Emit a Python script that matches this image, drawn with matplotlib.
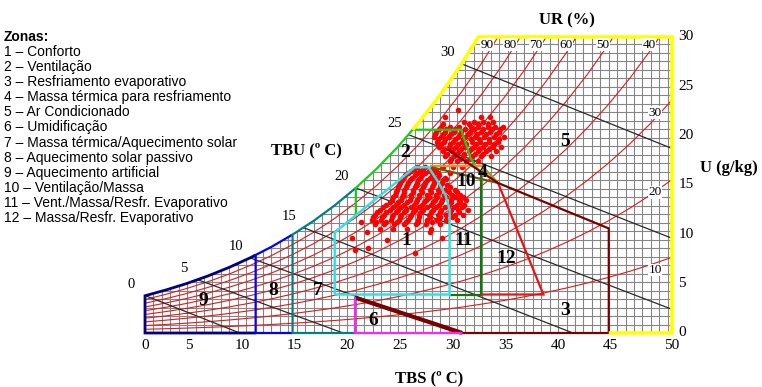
#!/usr/bin/env python3
import matplotlib
matplotlib.use("Agg")
import matplotlib.pyplot as plt
import numpy as np
from matplotlib.patches import Polygon
from matplotlib.collections import LineCollection

# PSYCHROMETRIC TABLE (dry bulb in C, saturation pressure in kPa)
temp_tab = [0, 2, 4, 6, 8, 10, 12, 14, 16, 18, 20, 22, 24,
            26, 28, 30, 32, 34, 36, 38, 40, 42, 44, 46, 48, 50]
psat_kpa = [0.611, 0.706, 0.813, 0.935, 1.073, 1.228, 1.403, 1.599, 1.818,
            2.064, 2.339, 2.645, 2.985, 3.363, 3.782, 4.246, 4.758, 5.324,
            5.947, 6.632, 7.384, 8.208, 9.111, 10.098, 11.175, 12.352]
p_atm = 101.325

rh_levels = [10, 20, 30, 40, 50, 60, 70, 80, 90]
tbu_vals = [0, 5, 10, 15, 20, 25, 30]
tbu_start_u = [3.8, 5.4, 7.6, 10.7, 14.7, 20.1, 27.3]
tbu_end_t = [9.0, 18.8, 29.6, 40.6, 50.0, 50.0, 50.0]
tbu_end_u = [0.0, 0.0, 0.0, 0.0, 2.4, 9.6, 18.7]

tbs_ticks = [0, 5, 10, 15, 20, 25, 30, 35, 40, 45, 50]
u_ticks = [0, 5, 10, 15, 20, 25, 30]

zone_legend = [
    "1 – Conforto",
    "2 – Ventilação",
    "3 – Resfriamento evaporativo",
    "4 – Massa térmica para resfriamento",
    "5 – Ar Condicionado",
    "6 – Umidificação",
    "7 – Massa térmica/Aquecimento solar",
    "8 – Aquecimento solar passivo",
    "9 – Aquecimento artificial",
    "10 – Ventilação/Massa",
    "11 – Vent./Massa/Resfr. Evaporativo",
    "12 – Massa/Resfr. Evaporativo",
]

# zone limits (TBS, U)
zone1 = [(18, 3.9), (18, 10.2), (25.6, 16.8), (26.9, 16.8), (27.7, 15.5),
         (28.5, 14.0), (28.9, 12.5), (28.9, 3.9), (18, 3.9)]
zone2_top = [(30.0, 20.6), (30.9, 17.7), (31.9, 16.0)]
zone10_11 = [(31.9, 16.0), (31.9, 3.9), (28.9, 3.9)]
zone4_top = [(27.0, 16.9), (32.0, 16.9)]
zone4_side = [(32.0, 16.9), (33.5, 15.2)]
zone10_diag = [(27.2, 16.8), (33.5, 15.2)]
zone12 = [(33.5, 15.2), (37.8, 3.9), (31.9, 3.9)]
zone3 = [(28.7, 18.6), (33.5, 15.2), (44.0, 10.6), (44.0, 0.0), (30.1, 0.0)]
zone3_tbu = [(30.1, 0.0), (19.9, 3.6)]
zone6 = [(19.9, 3.6), (19.9, 0.0), (30.1, 0.0)]

# hourly records (U rows with TBS values), upper group
obs_a_u = [22.6, 21.9, 21.4, 21.15, 20.9, 20.65, 20.4, 20.15, 19.9, 19.65,
           19.4, 19.15, 18.9, 18.65, 18.4, 18.15, 17.9, 17.65, 17.4, 16.8,
           16.2, 15.6]
obs_a_t = [
    [29.7],
    [28.5, 31.9, 32.7],
    [30.3, 31.2, 32.1, 33.0],
    [28.3, 30.7, 31.6, 32.5],
    [28.1, 28.9, 29.8, 30.9, 31.6, 32.5, 33.2, 34.0],
    [27.9, 28.6, 29.4, 30.4, 31.2, 32.1, 32.9, 33.7],
    [27.6, 28.5, 29.3, 30.0, 30.8, 31.9, 32.7, 33.6],
    [27.5, 28.3, 29.0, 29.9, 30.6, 31.5, 32.4, 33.3],
    [27.4, 28.1, 28.8, 29.7, 30.4, 31.3, 32.2, 33.1, 34.1],
    [27.8, 28.5, 29.4, 30.2, 30.9, 31.7, 32.6, 33.6],
    [27.7, 28.4, 29.2, 30.1, 31.0, 31.8, 32.6, 33.5],
    [28.1, 28.9, 29.7, 30.5, 31.4, 32.3, 33.1],
    [27.9, 28.8, 29.5, 30.4, 31.2, 32.1, 33.0, 33.8],
    [28.4, 29.2, 30.0, 30.9, 31.7, 32.6],
    [28.3, 29.1, 29.8, 30.7, 31.6, 32.4, 33.3],
    [28.7, 29.5, 30.3, 31.3, 32.1],
    [28.5, 29.3, 30.2, 31.0, 31.9, 32.8],
    [29.0, 29.9, 30.8],
    [28.9, 29.6, 30.5, 31.6],
    [28.3, 29.2, 30.1],
    [27.8, 28.9],
    [27.4, 28.6],
]
# lower group
obs_b_u = [16.8, 16.6, 16.4, 16.2, 16.0, 15.75, 15.5, 15.25, 15.0, 14.75,
           14.5, 14.25, 14.0, 13.75, 13.5, 13.25, 13.0, 12.75, 12.5, 12.25,
           12.0, 11.75, 11.5, 11.25, 11.0, 10.5]
obs_b_t = [
    [25.8, 26.6],
    [25.5, 26.4, 27.2],
    [25.2, 26.1, 26.9, 27.6],
    [25.0, 25.8, 26.6, 27.4],
    [24.7, 25.6, 26.3, 27.2, 27.9],
    [24.5, 25.3, 26.1, 27.0, 27.7, 28.5],
    [24.4, 25.1, 25.9, 26.8, 27.5, 28.3],
    [24.2, 25.0, 25.8, 26.6, 27.4, 28.2],
    [24.1, 24.9, 25.7, 26.5, 27.3, 28.0, 28.7],
    [24.0, 24.8, 25.6, 26.4, 27.2, 28.0, 28.9],
    [23.9, 24.6, 25.4, 26.2, 27.0, 27.8, 28.5, 29.4],
    [23.8, 24.6, 25.4, 26.3, 27.1, 27.9, 28.8, 29.6],
    [23.7, 24.5, 25.2, 26.0, 26.8, 27.6, 28.4, 29.1, 29.9],
    [23.5, 24.4, 25.2, 26.0, 26.9, 27.7, 28.6, 29.4, 30.2],
    [23.4, 24.3, 25.1, 25.8, 26.7, 27.5, 28.2, 29.0, 29.8, 30.5],
    [23.2, 24.0, 24.9, 25.7, 26.5, 27.3, 28.1, 29.0, 29.9],
    [22.9, 23.8, 24.6, 25.5, 26.3, 27.1, 27.9, 28.8, 29.6, 30.3],
    [22.6, 23.5, 24.3, 25.2, 26.0, 26.8, 27.6, 28.5, 29.3, 30.1],
    [22.3, 23.2, 24.0, 24.8, 25.6, 26.4, 27.3, 28.1, 29.0, 29.7, 30.6],
    [22.0, 22.9, 23.8, 24.6, 25.4, 26.2, 27.1, 28.0, 28.9, 29.8],
    [21.8, 22.7, 23.5, 24.3, 25.2, 26.0, 26.9, 27.8, 28.6, 29.4, 30.2],
    [21.6, 22.5, 23.4, 24.2, 25.1, 26.0, 27.0, 28.0, 29.1],
    [21.5, 22.4, 23.3, 24.1, 25.0, 25.9, 26.8, 27.7, 28.6, 29.6],
    [21.9, 22.9, 23.9, 24.8, 25.9, 27.2],
    [21.8, 22.7, 23.6, 24.6, 25.7, 26.7, 28.0],
    [22.3, 23.5, 24.9, 27.1],
]
# isolated records
obs_c_t = [19.6, 21.1, 21.2, 25.6, 27.0, 28.2, 19.9, 23.0, 20.5]
obs_c_u = [9.6, 10.2, 8.6, 8.1, 10.2, 9.6, 8.4, 9.4, 11.3]

SERIF = "Liberation Serif"
SANS = "Liberation Sans"

ps = np.array(psat_kpa)
wsat = 622 * ps / (p_atm - ps)


def sat_pts(t0, t1):
    ts = [t0] + [t for t in temp_tab if t0 < t < t1] + [t1]
    return [(t, float(np.interp(t, temp_tab, wsat))) for t in ts]


def draw(ax, pts, color, lw=1.6, z=4):
    pts = np.array(pts)
    ax.plot(pts[:, 0], pts[:, 1], color=color, lw=lw, zorder=z,
            solid_joinstyle="miter", solid_capstyle="butt")


fig = plt.figure(figsize=(7.62, 3.87), dpi=100)
ax = fig.add_axes([0, 0, 1, 1])
ax.set_xlim(-145 / 10.54, 617 / 10.54)
ax.set_ylim(-54 / 9.867, 333 / 9.867)
ax.axis("off")

t_top = float(np.interp(30, wsat, temp_tab))
region = Polygon([(0, 0)] + sat_pts(0, t_top) + [(50, 30), (50, 0)],
                 closed=True, transform=ax.transData, fc="none", ec="none")
ax.add_patch(region)

# grid
segs = [[(t, 0), (t, 30)] for t in np.arange(0, 50.01, 0.8)]
segs += [[(0, u), (50, u)] for u in np.arange(0, 30.01, 0.86)]
grid = LineCollection(segs, colors="#858585", linewidths=0.8, zorder=1)
ax.add_collection(grid)
grid.set_clip_path(region)

# relative humidity curves
for rh in rh_levels:
    phi = rh / 100
    w = 622 * phi * ps / (p_atm - phi * ps)
    ln, = ax.plot(temp_tab, w, color="#dd1a1a", lw=0.8, zorder=2)
    ln.set_clip_path(region)
    if w[-1] > 30:
        t_hit = float(np.interp(30, w, temp_tab))
        ax.text(t_hit - 1.0, 29.2, str(rh), family=SERIF, fontsize=9.5,
                ha="center", va="center", zorder=6,
                bbox=dict(fc="white", ec="none", pad=0.3))
    else:
        ax.text(48.4, w[-1] - 1.3, str(rh), family=SERIF, fontsize=9.5,
                ha="center", va="center", zorder=6,
                bbox=dict(fc="white", ec="none", pad=0.3))

# wet bulb lines
for tb, u0, t1, u1 in zip(tbu_vals, tbu_start_u, tbu_end_t, tbu_end_u):
    ln, = ax.plot([tb, t1], [u0, u1], color="#2a2a2a", lw=0.9, zorder=2)
    ln.set_clip_path(region)
    ax.annotate(str(tb), (tb, u0), xytext=(-10, 8), textcoords="offset points",
                family=SERIF, fontsize=10.5, ha="center", va="center")

# records
t_obs, u_obs = [], []
for u, row in zip(obs_a_u + obs_b_u, obs_a_t + obs_b_t):
    t_obs += row
    u_obs += [u] * len(row)
t_obs += obs_c_t
u_obs += obs_c_u
ax.scatter(t_obs, u_obs, s=16, c="#ff0000", lw=0, zorder=3)

# zones
draw(ax, [(10.5, 0), (0, 0), (0, wsat[0])] + sat_pts(0, 10.5), "#000080", 2.0)
draw(ax, [(14, 0), (10.5, 0)] + sat_pts(10.5, 10.5) + sat_pts(10.5, 14), "#0000ff")
draw(ax, [(20, 0), (14, 0)] + sat_pts(14, 14) + sat_pts(14, 20), "#008080")
t_g = float(np.interp(20.6, wsat, temp_tab))
draw(ax, [(20, 12.0)] + sat_pts(20, t_g) + zone2_top, "#1ccc1c")
draw(ax, zone10_11, "#0a7a0a")
draw(ax, zone4_top, "#ff8c1a")
draw(ax, zone4_side, "#9a9a10")
draw(ax, zone10_diag, "#6b5a10")
draw(ax, zone1, "#33e0e6", 1.8)
draw(ax, zone12, "#ee1111")
draw(ax, zone3, "#7a0000")
draw(ax, zone3_tbu, "#7a0000", 3.0)
draw(ax, zone6, "#ff22ff")
draw(ax, sat_pts(t_g, t_top) + [(50, 30), (50, 0), (44, 0)], "#ffff00", 2.6)

# zone numbers
zone_pos = [(24.8, 9.4), (24.7, 18.3), (39.9, 2.3), (32.0, 16.3), (39.9, 19.4),
            (21.7, 1.3), (16.4, 4.3), (12.2, 4.3), (5.5, 3.3), (30.5, 15.4),
            (30.2, 9.4), (34.3, 7.5)]
for i, (x, y) in enumerate(zone_pos):
    ax.text(x, y, str(i + 1), family=SERIF, fontsize=14, fontweight="bold",
            ha="center", va="center", zorder=6)

# axis numbers
for t in tbs_ticks:
    dx = -0.8 if 0 < t < 50 else 0
    ax.text(t + dx, -1.25, str(t), family=SERIF, fontsize=11,
            ha="center", va="center")
for u in u_ticks:
    ax.text(50.6, u, str(u), family=SERIF, fontsize=11, ha="left", va="center")

ax.text(27.0, -4.6, "TBS (º C)", family=SERIF, fontsize=12, fontweight="bold",
        ha="center", va="center")
ax.text(15.3, 18.5, "TBU (º C)", family=SERIF, fontsize=12, fontweight="bold",
        ha="center", va="center")
ax.text(40.0, 31.7, "UR (%)", family=SERIF, fontsize=12, fontweight="bold",
        ha="center", va="center")
ax.text(55.4, 16.7, "U (g/kg)", family=SERIF, fontsize=12, fontweight="bold",
        ha="center", va="center")

# legend block
fig.text(4 / 762, 1 - 37 / 387, "Zonas:", family=SANS, fontsize=10,
         fontweight="bold", ha="left", va="center")
for i, name in enumerate(zone_legend):
    fig.text(4 / 762, 1 - (52 + 15.1 * i) / 387, name, family=SANS,
             fontsize=10, ha="left", va="center")

fig.savefig("out.png", dpi=100)
